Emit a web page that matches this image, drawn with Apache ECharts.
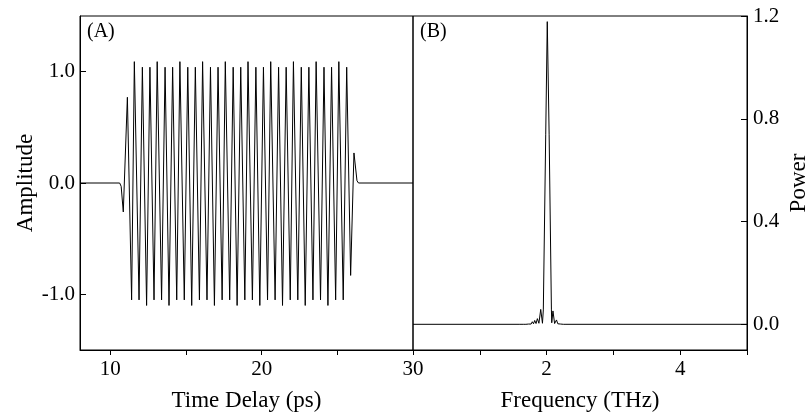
<!DOCTYPE html>
<html>
<head>
<meta charset="utf-8">
<script src="https://cdn.jsdelivr.net/npm/echarts@6/dist/echarts.min.js"></script>
<style>
  html, body { margin: 0; padding: 0; background: #fff; }
  #main { width: 808px; height: 417px; }
</style>
</head>
<body>
<div id="main"></div>
<script>
// (A) time domain, extrema
const timeDelay = [
  8.00, 10.62, 10.72, 10.86, 11.13, 11.41, 11.59,
  11.90, 12.12, 12.40, 12.62, 12.89, 13.10,
  13.39, 13.62, 13.88, 14.12, 14.39, 14.60,
  14.89, 15.12, 15.38, 15.62, 15.89, 16.10,
  16.39, 16.62, 16.88, 17.12, 17.39, 17.60,
  17.89, 18.12, 18.38, 18.62, 18.89, 19.10,
  19.39, 19.62, 19.88, 20.12, 20.39, 20.60,
  20.89, 21.12, 21.38, 21.62, 21.89, 22.10,
  22.39, 22.62, 22.88, 23.12, 23.39, 23.60,
  23.89, 24.12, 24.38, 24.62, 24.89, 25.10,
  25.39, 25.62,
  25.88, 26.10, 26.30, 26.40, 30.00
];
const amplitude = [
  0, 0, -0.03, -0.26, 0.77, -1.05, 1.09,
  -1.05, 1.04, -1.10, 1.04, -1.05, 1.09,
  -1.05, 1.04, -1.10, 1.04, -1.05, 1.09,
  -1.05, 1.04, -1.10, 1.04, -1.05, 1.09,
  -1.05, 1.04, -1.10, 1.04, -1.05, 1.09,
  -1.05, 1.04, -1.10, 1.04, -1.05, 1.09,
  -1.05, 1.04, -1.10, 1.04, -1.05, 1.09,
  -1.05, 1.04, -1.10, 1.04, -1.05, 1.09,
  -1.05, 1.04, -1.10, 1.04, -1.05, 1.09,
  -1.05, 1.04, -1.10, 1.04, -1.05, 1.09,
  -1.05, 1.04,
  -0.83, 0.27, 0.02, 0, 0
];

// (B) spectrum
const frequency = [
  0, 1.60, 1.65, 1.67, 1.69, 1.71, 1.73, 1.75, 1.768, 1.786, 1.804, 1.822, 1.842, 1.862, 1.885,
  1.912, 1.938, 1.947, 1.951, 1.987, 2.010, 2.038, 2.072, 2.077,
  2.095, 2.12, 2.148, 2.168, 2.19, 2.21, 2.23, 2.25, 2.27, 2.29, 5.0
];
const power = [
  0, 0, 0, 0.002, 0, 0.004, 0.001, 0.006, 0.001, 0.010, 0.002, 0.015, 0.003, 0.022, 0.004,
  0.058, 0.004, 0.004, 0.056, 0.74, 1.178, 0.74, 0.056, 0.006,
  0.052, 0.003, 0.017, 0.002, 0.008, 0.001, 0.004, 0, 0.002, 0, 0
];

const timeTicks = [10, 15, 20, 25, 30];
const timeLabels = [10, 20, 30];
const ampTicks = [-1, 0, 1];
const freqTicks = [1, 2, 3, 4, 5];
const freqLabels = [2, 4];
const powerTicks = [0, 0.4, 0.8, 1.2];

const FONT = '"Liberation Serif", "DejaVu Serif", serif';

let myChart = echarts.init(document.getElementById('main'), null, { renderer: 'canvas' });

const labelStyle = { fontFamily: FONT, fontSize: 21, color: '#000' };
const nameStyle = { fontFamily: FONT, fontSize: 23, color: '#000' };
const lineStyle = { color: '#000', width: 1 };

myChart.setOption({
  animation: false,
  backgroundColor: '#fff',
  graphic: [
    { type: 'text', left: 87, top: 22, style: { text: '(A)', font: '20px ' + FONT, fill: '#000' } },
    { type: 'text', left: 420, top: 22, style: { text: '(B)', font: '20px ' + FONT, fill: '#000' } }
  ],
  grid: [
    { left: 80, top: 16, width: 333, height: 334, outerBoundsMode: 'none', show: true, borderColor: '#000', borderWidth: 1 },
    { left: 413, top: 16, width: 334, height: 334, outerBoundsMode: 'none', show: true, borderColor: '#000', borderWidth: 1 }
  ],
  xAxis: [{
    type: 'value', gridIndex: 0, min: 8, max: 30,
    name: 'Time Delay (ps)', nameLocation: 'middle', nameGap: 39, nameTextStyle: nameStyle,
    axisLine: { onZero: false, lineStyle: lineStyle },
    axisTick: { customValues: timeTicks, inside: false, length: 5, lineStyle: lineStyle },
    axisLabel: Object.assign({ customValues: timeLabels, margin: 9 }, labelStyle),
    splitLine: { show: false }
  }, {
    type: 'value', gridIndex: 1, min: 0, max: 5,
    name: 'Frequency (THz)', nameLocation: 'middle', nameGap: 39, nameTextStyle: nameStyle,
    axisLine: { onZero: false, lineStyle: lineStyle },
    axisTick: { customValues: freqTicks, inside: false, length: 5, lineStyle: lineStyle },
    axisLabel: Object.assign({ customValues: freqLabels, margin: 9 }, labelStyle),
    splitLine: { show: false }
  }],
  yAxis: [{
    type: 'value', gridIndex: 0, min: -1.5, max: 1.5,
    name: 'Amplitude', nameLocation: 'middle', nameGap: 42, nameRotate: 90, nameTextStyle: nameStyle,
    axisLine: { onZero: false, lineStyle: lineStyle },
    axisTick: { customValues: ampTicks, inside: true, length: 6, lineStyle: lineStyle },
    axisLabel: Object.assign({ customValues: ampTicks, margin: 5, formatter: v => v.toFixed(1) }, labelStyle),
    splitLine: { show: false }
  }, {
    type: 'value', gridIndex: 1, position: 'right', min: -0.1, max: 1.2,
    name: 'Power', nameLocation: 'middle', nameGap: 40, nameRotate: 90, nameTextStyle: nameStyle,
    axisLine: { onZero: false, lineStyle: lineStyle },
    axisTick: { customValues: powerTicks, inside: true, length: 6, lineStyle: lineStyle },
    axisLabel: Object.assign({ customValues: powerTicks, margin: 6, formatter: v => v.toFixed(1) }, labelStyle),
    splitLine: { show: false }
  }],
  series: [{
    type: 'line', xAxisIndex: 0, yAxisIndex: 0,
    data: timeDelay.map((t, i) => [t, amplitude[i]]),
    showSymbol: false, lineStyle: { color: '#000', width: 1 }
  }, {
    type: 'line', xAxisIndex: 1, yAxisIndex: 1,
    data: frequency.map((f, i) => [f, power[i]]),
    showSymbol: false, lineStyle: { color: '#000', width: 1 }
  }]
});
</script>
</body>
</html>
